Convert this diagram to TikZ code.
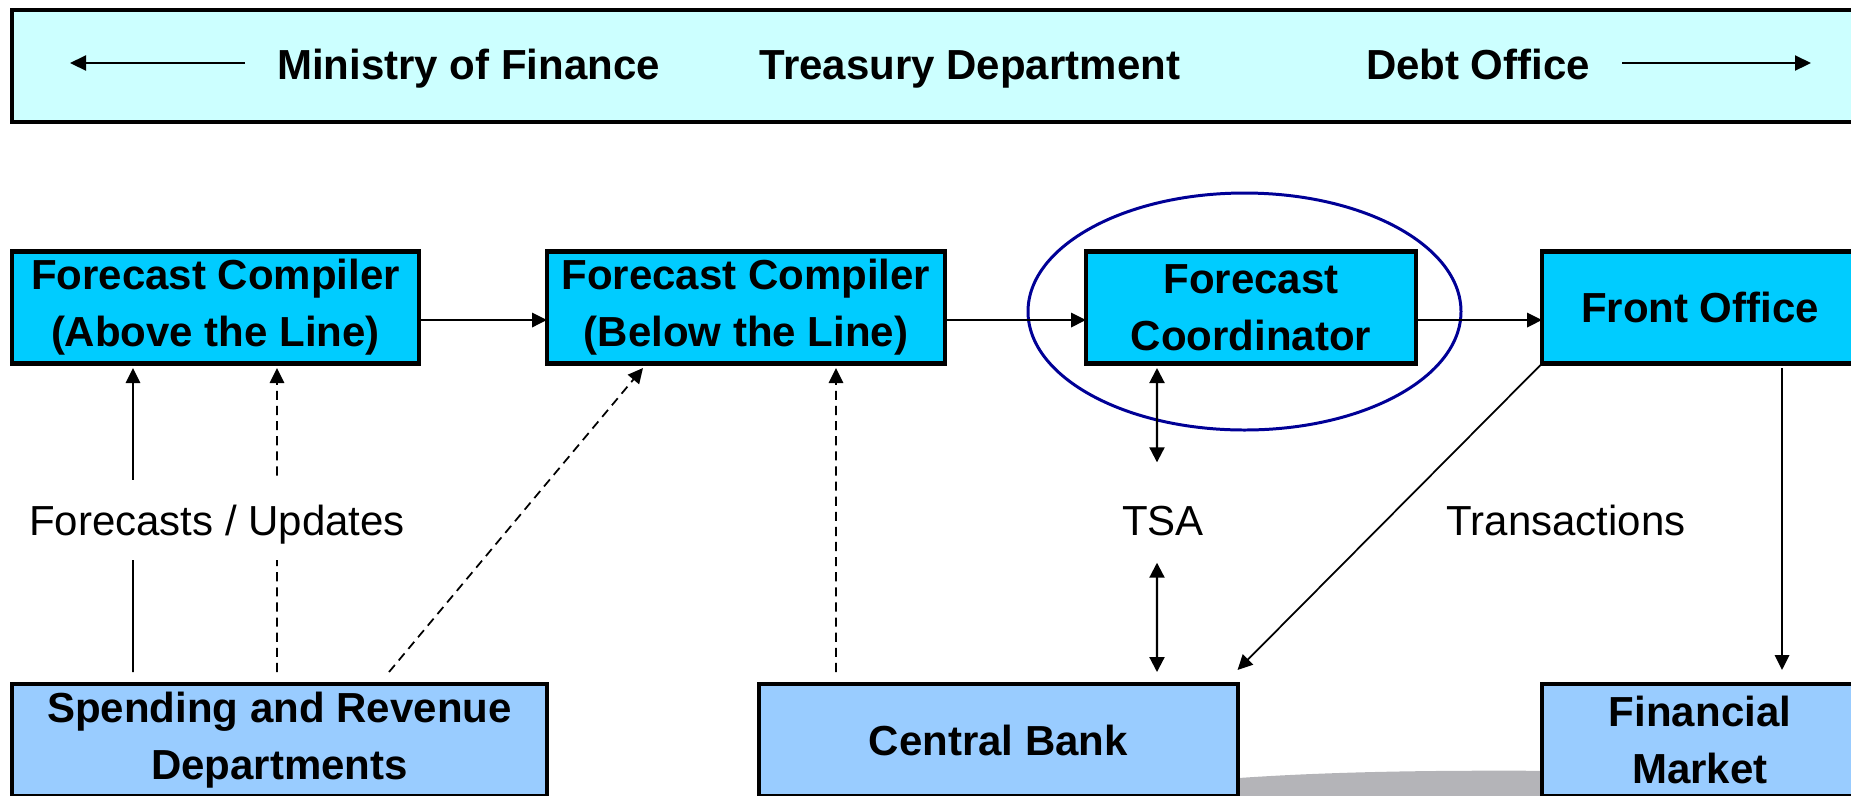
\documentclass[tikz,border=0pt]{standalone}
\usepackage{fontspec}
\setmainfont{Liberation Sans}
\usetikzlibrary{arrows.meta}
\definecolor{topfill}{RGB}{204,255,255}
\definecolor{midfill}{RGB}{0,204,255}
\definecolor{lowfill}{RGB}{153,204,255}
\definecolor{ringcol}{RGB}{0,0,150}
\definecolor{shadegray}{RGB}{180,180,184}
\tikzset{
  box/.style={draw=black, line width=1.25pt, outer sep=0pt, inner sep=0pt, align=center,
    font=\fontsize{11.95pt}{16.2pt}\selectfont\bfseries},
  midbox/.style={box, fill=midfill, minimum height=11.2mm},
  lowbox/.style={box, fill=lowfill, minimum height=11.2mm},
  conn/.style={line width=0.5pt, -{Triangle[length=1.5mm,width=1.45mm]}},
  dconn/.style={conn, dash pattern=on 2.6pt off 1.7pt},
  biconn/.style={line width=0.6pt, {Triangle[length=1.5mm,width=1.5mm]}-{Triangle[length=1.5mm,width=1.5mm]}},
  toparr/.style={line width=0.6pt, -{Triangle[length=1.6mm,width=1.5mm]}},
  lbl/.style={font=\fontsize{11.95pt}{14pt}\selectfont, inner sep=0pt, anchor=base},
  toptxt/.style={font=\fontsize{11.95pt}{14pt}\selectfont\bfseries, inner sep=0pt, anchor=base},
}
\begin{document}
\begin{tikzpicture}[x=0.1mm,y=-0.1mm]
\useasboundingbox (0,0) rectangle (1851,795);

% top band
\node[draw=black, line width=1.2pt, fill=topfill, minimum width=184.8mm, minimum height=11.25mm,
      inner sep=0pt, outer sep=0pt] (band) at (936,66) {};
\node[toptxt] (mof) at (468.5,79) {Ministry of Finance};
\node[toptxt] (tsy) at (970,79) {Treasury Department};
\node[toptxt] (dbt) at (1478,79) {Debt Office};
\coordinate (la1) at (245,63);
\coordinate (la2) at (70,63);
\coordinate (ra1) at (1622,63);
\coordinate (ra2) at (1811,63);
\draw[toparr] (la1) -- (la2);
\draw[toparr] (ra1) -- (ra2);

% gray background shape
\fill[shadegray] (1225,779) .. controls (1330,771) and (1450,770) .. (1570,771) -- (1570,800) -- (1225,800) -- cycle;

% boxes
\node[midbox, minimum width=40.7mm] (fca) at (215.5,307.5) {Forecast Compiler\\(Above the Line)};
\node[midbox, minimum width=39.8mm] (fcb) at (746,307.5) {Forecast Compiler\\(Below the Line)};
\node[midbox, minimum width=33mm] (fco) at (1251,307.5) {Forecast\\Coordinator};
\node[midbox, minimum width=31.6mm] (fo) at (1700,307.5) {Front Office};
\node[lowbox, minimum width=53.5mm] (srd) at (279.5,740) {Spending and Revenue\\Departments};
\node[lowbox, minimum width=47.9mm] (cb) at (998.5,740) {Central Bank};
\node[lowbox, minimum width=31.6mm] (fm) at (1700,740) {Financial\\Market};

% ring
\draw[ringcol, line width=0.85pt] (1244.5,311.5) ellipse [x radius=21.65mm, y radius=11.85mm];

% horizontal flow
\draw[conn] ([yshift=-1.25mm]fca.east) -- ([yshift=-1.25mm]fcb.west);
\draw[conn] ([yshift=-1.25mm]fcb.east) -- ([yshift=-1.25mm]fco.west);
\draw[conn] ([yshift=-1.25mm]fco.east) -- ([yshift=-1.25mm]fo.west);

% forecasts / updates
\draw[conn] ([xshift=12.1mm,yshift=1.2mm]srd.north west) -- ([xshift=12.1mm,yshift=-0.45mm]fca.south west);
\draw[dconn] ([xshift=26.5mm,yshift=1.2mm]srd.north west) -- ([xshift=26.5mm,yshift=-0.45mm]fca.south west);
\draw[dconn] ([xshift=37.7mm,yshift=1.2mm]srd.north west) -- ([xshift=9.6mm,yshift=-0.45mm]fcb.south west);
\draw[dconn] ([xshift=7.7mm,yshift=1.2mm]cb.north west) -- ([xshift=28.9mm,yshift=-0.45mm]fcb.south west);
\node[lbl, fill=white, text height=5.5mm, text depth=2.5mm, inner xsep=0.5mm] (fu) at (217,535) {Forecasts / Updates};

% TSA
\node[lbl, text height=3mm, text depth=0pt] (tsa) at (1163,535) {TSA};
\draw[biconn] ([xshift=7.1mm,yshift=-0.45mm]fco.south west) -- ([xshift=-0.6mm,yshift=4.2mm]tsa.north);
\draw[biconn] ([xshift=-0.6mm,yshift=-2.7mm]tsa.south) -- ([xshift=39.8mm,yshift=1.2mm]cb.north west);

% transactions
\node[lbl] (tr) at (1566,535) {Transactions};
\draw[conn] (fo.south west) -- ([xshift=-0.05mm,yshift=1.4mm]cb.north east);
\draw[conn] ([xshift=24mm,yshift=-0.45mm]fo.south west) -- ([xshift=24mm,yshift=1.4mm]fm.north west);
\end{tikzpicture}
\end{document}
